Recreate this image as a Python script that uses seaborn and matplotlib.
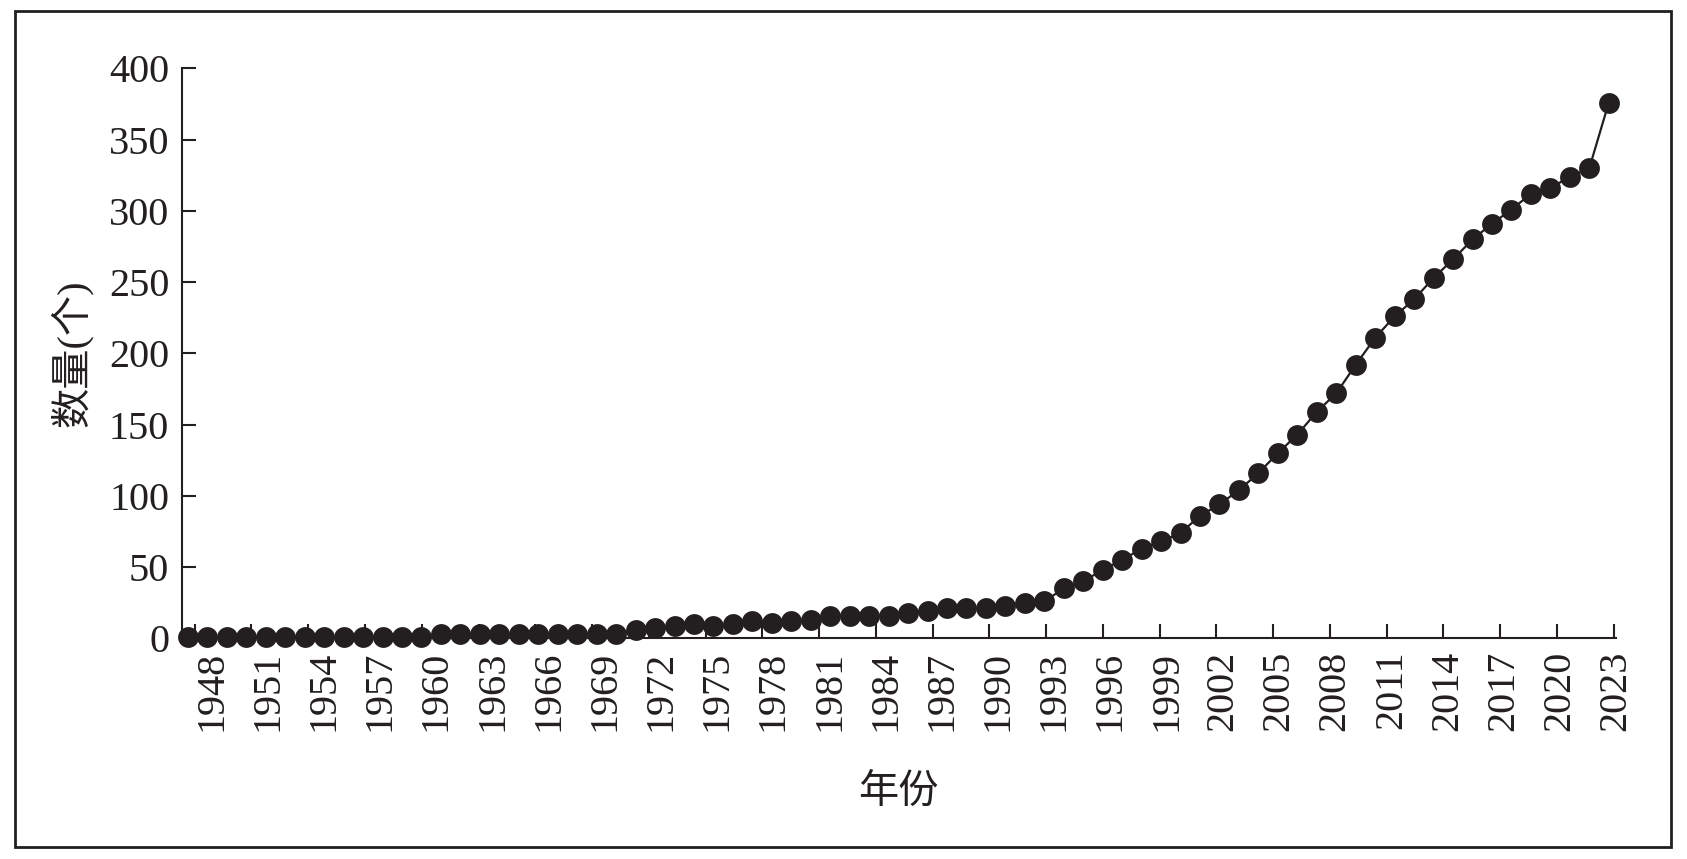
import numpy as np
import matplotlib
matplotlib.use('Agg')
import matplotlib.pyplot as plt
import seaborn as sns
from matplotlib.patches import Rectangle

# counts (74 points, left to right)
counts = [1, 1, 1, 1, 1, 1, 1, 1, 1, 1, 1, 1, 1,
          3, 3, 3, 3, 3, 3, 3, 3, 3, 3,
          6, 7, 8.5, 10, 9, 10, 12, 11, 12, 13,
          16, 16, 16, 16, 18, 19, 21, 21, 21, 23,
          25, 26, 35, 40, 48, 55, 63, 68, 74, 86,
          94, 104, 116, 130, 143, 159, 172, 192, 211, 226,
          238, 253, 266, 280, 291, 301, 312, 316, 324, 330,
          376]
tick_years = list(range(1948, 2024, 3))
y_ticks = [0, 50, 100, 150, 200, 250, 300, 350, 400]

ink = '#231f20'

sns.set_style('ticks')
plt.rcParams['font.family'] = ['Liberation Serif', 'Noto Sans CJK SC']

fig = plt.figure(figsize=(16.87, 8.59), dpi=100)
ax = fig.add_axes([0.1077, 0.2569, 0.8502, 0.6634])

pos = np.arange(len(counts))
sns.lineplot(x=pos, y=counts, ax=ax, color=ink, linewidth=1.6,
             marker='o', markersize=15, markeredgewidth=0)
for ln in ax.lines:
    ln.set_clip_on(False)

# the source chart's tick marks and labels drift slightly from the points
mark_pos = [0.35 + (y - 1948) * 0.972 for y in tick_years]
label_pos = [1.22 + (y - 1948) * 0.962 for y in tick_years]

ax.set_xlim(-0.32, 73.23)
ax.set_ylim(0, 400)
ax.set_xticks(label_pos)
ax.set_xticklabels([str(y) for y in tick_years], rotation=90, fontsize=29)
ax.set_xticks(mark_pos, minor=True)
ax.set_yticks(y_ticks)
ax.set_yticklabels([str(v) for v in y_ticks], fontsize=29)

ax.tick_params(axis='x', which='major', length=0, pad=9, colors=ink)
ax.tick_params(axis='x', which='minor', direction='in', length=10, width=1.5, color=ink)
ax.tick_params(axis='y', direction='in', length=10, width=1.5, pad=9, colors=ink)

for s in ['left', 'bottom']:
    ax.spines[s].set_linewidth(1.5)
    ax.spines[s].set_color(ink)
sns.despine(ax=ax)

ax.set_ylabel('数量(个)', fontsize=29, color=ink)
ax.yaxis.set_label_coords(-0.062, 0.5)
ax.set_xlabel('年份', fontsize=29, color=ink)
ax.xaxis.set_label_coords(0.5, -0.24)

fig.patches.append(Rectangle((0.0089, 0.014), 0.9816, 0.973, transform=fig.transFigure,
                             fill=False, lw=2, ec=ink))

fig.savefig('out.png', dpi=100)
